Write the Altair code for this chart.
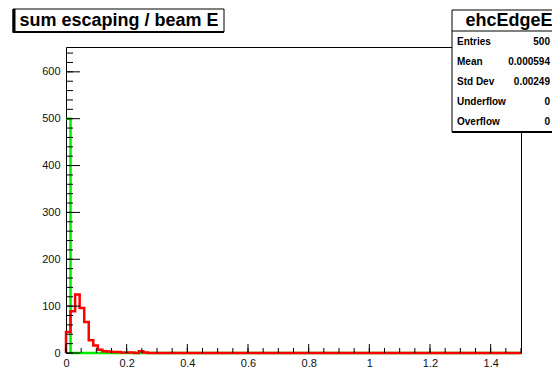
import altair as alt
import pandas as pd

# ---- data ----
bin_width = 0.015
n_bins = 100
red_counts = [45, 89, 125, 96, 66, 27, 16, 7, 4, 3, 2, 2, 1, 1, 1, 0, 4, 1] + [0] * 82
green_counts = [500] + [0] * 99

x_labels = [0, 0.2, 0.4, 0.6, 0.8, 1, 1.2, 1.4]
x_minor = [round(0.05 * k, 4) for k in range(31)]
y_labels = [0, 100, 200, 300, 400, 500, 600]
y_minor = [20 * k for k in range(33)]

title_text = "sum escaping / beam E"
stats_title = "ehcEdgeE"
stat_names = ["Entries", "Mean", "Std Dev", "Underflow", "Overflow"]
stat_values = ["500", "0.000594", "0.00249", "0", "0"]

W, H = 455, 306
FONT = "Liberation Sans"

xs = alt.Scale(domain=[0, 1.5], nice=False, zero=False)
ys = alt.Scale(domain=[0, 653], nice=False)


def hist_points(counts, left_edge=True):
    rows = []
    if left_edge:
        rows.append({"x": 0.0, "y": 0})
    for i, c in enumerate(counts):
        rows.append({"x": round(i * bin_width, 6), "y": c})
    rows.append({"x": round(n_bins * bin_width, 6), "y": 0})
    for k, r in enumerate(rows):
        r["i"] = k
    return pd.DataFrame(rows)


green_df = hist_points(green_counts, left_edge=False)
red_df = hist_points(red_counts, left_edge=True)

base_x = alt.X("x:Q", scale=xs,
               axis=alt.Axis(values=x_labels, format="~g", ticks=False, tickSize=0,
                             domain=False, grid=False, labelPadding=4, title=None,
                             labelFont=FONT, labelFontSize=11, labelColor="#111",
                             labelFlush=False))
base_y = alt.Y("y:Q", scale=ys,
               axis=alt.Axis(values=y_labels, ticks=False, tickSize=0, domain=False,
                             grid=False, labelPadding=6, title=None,
                             labelFont=FONT, labelFontSize=11, labelColor="#111",
                             labelFlush=False))

green = alt.Chart(green_df).mark_line(interpolate="step-after", color="#00ee00",
                                      strokeWidth=2.5, clip=False).encode(
    x=base_x, y=base_y, order="i:O")
red = alt.Chart(red_df).mark_line(interpolate="step-after", color="#ff0000",
                                  strokeWidth=2.5, clip=False).encode(
    x=alt.X("x:Q", scale=xs), y=alt.Y("y:Q", scale=ys), order="i:O")

# inward ticks
xmaj = alt.Chart(pd.DataFrame({"x": x_labels})).mark_rule(color="black", strokeWidth=1).encode(
    x=alt.X("x:Q", scale=xs), y=alt.value(H), y2=alt.value(H - 9))
xmin = alt.Chart(pd.DataFrame({"x": x_minor})).mark_rule(color="black", strokeWidth=1).encode(
    x=alt.X("x:Q", scale=xs), y=alt.value(H), y2=alt.value(H - 5))
ymaj = alt.Chart(pd.DataFrame({"y": y_labels})).mark_rule(color="black", strokeWidth=1).encode(
    y=alt.Y("y:Q", scale=ys), x=alt.value(0), x2=alt.value(14))
ymin = alt.Chart(pd.DataFrame({"y": y_minor})).mark_rule(color="black", strokeWidth=1).encode(
    y=alt.Y("y:Q", scale=ys), x=alt.value(0), x2=alt.value(7))

one = pd.DataFrame({"k": [0]})


def box(x1, x2, y1, y2, fill="white", stroke="black", sw=1):
    return alt.Chart(one).mark_rect(fill=fill, stroke=stroke, strokeWidth=sw).encode(
        x=alt.value(x1), x2=alt.value(x2), y=alt.value(y1), y2=alt.value(y2))


def hline(x1, x2, y, sw=1, color="black"):
    return alt.Chart(one).mark_rule(color=color, strokeWidth=sw).encode(
        x=alt.value(x1), x2=alt.value(x2), y=alt.value(y))


def vline(x, y1, y2, sw=1, color="black"):
    return alt.Chart(one).mark_rule(color=color, strokeWidth=sw).encode(
        x=alt.value(x), y=alt.value(y1), y2=alt.value(y2))


def label(txt, x, y, size, align="left", bold=True):
    return alt.Chart(one).mark_text(text=txt, align=align, baseline="middle",
                                    font=FONT, fontSize=size,
                                    fontWeight="bold" if bold else "normal",
                                    color="black").encode(x=alt.value(x), y=alt.value(y))


# title box
title_layers = [
    box(-53, 158, -38, -15),
    vline(-52, -38, -14, sw=3),
    hline(-53, 158, -15, sw=2),
    label(title_text, 53, -26.5, 18, align="center"),
]

# stats box
stats_layers = [
    box(386, 560, -37, 85),
    hline(386, 560, 85, sw=2),
    hline(386, 560, -16),
    label(stats_title, 443, -26.5, 18, align="center"),
]
for k, (n, v) in enumerate(zip(stat_names, stat_values)):
    yy = -5.3 + 20 * k
    stats_layers.append(label(n, 391, yy, 10, align="left"))
    stats_layers.append(label(v, 484, yy, 10, align="right"))

chart = alt.layer(
    green, red, xmin, xmaj, ymin, ymaj, *title_layers, *stats_layers
).properties(
    width=W, height=H,
    background="white",
    autosize=alt.AutoSizeParams(type="none"),
    padding={"left": 58, "top": 39, "right": 31, "bottom": 28},
).configure_view(
    stroke="black", strokeWidth=1
)

chart.save("out.html", embed_options={"renderer": "svg", "actions": False})
